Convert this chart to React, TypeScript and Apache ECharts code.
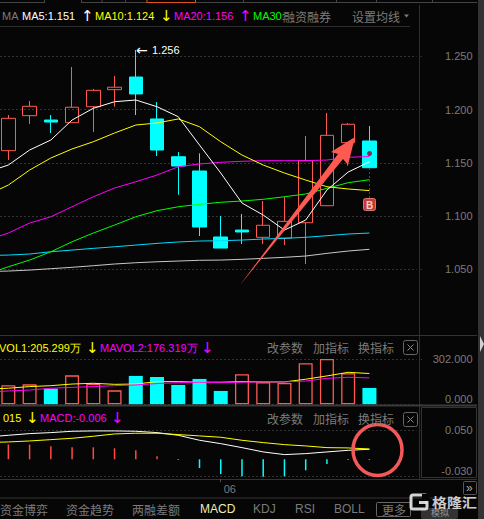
import React, { useEffect, useRef } from "react";
import * as echarts from "echarts";

const categories = ["", "", "", "", "", "", "", "", "", "", "", "06", "", "", "", "", "", "", "", "", ""];

const opens = ["-", 1.1615, 1.1944, 1.1903, 1.1878, 1.2028, 1.2188, 1.2307, 1.1913, 1.1558, 1.1424, 1.0804, 1.0869, 1.0801, 1.0794, 1.0938, 1.1098, 1.169, 1.1706];
const closes = ["-", 1.1919, 1.2032, 1.1884, 1.2023, 1.2182, 1.2211, 1.2148, 1.1621, 1.1471, 1.0898, 1.07, 1.0851, 1.0914, 1.0951, 1.1521, 1.1759, 1.1863, 1.1455];
const lows = ["-", 1.1527, 1.1866, 1.1781, 1.1878, 1.179, 1.2028, 1.195, 1.1565, 1.1201, 1.0813, 1.07, 1.0738, 1.0738, 1.0728, 1.055, 1.1098, 1.1474, 1.1433];
const highs = ["-", 1.195, 1.2082, 1.195, 1.2401, 1.2195, 1.2317, 1.2561, 1.2072, 1.1602, 1.159, 1.1001, 1.102, 1.1142, 1.1182, 1.1753, 1.1969, 1.1875, 1.1847];

const ma5 = [1.1414, 1.148, 1.1621, 1.1715, 1.1903, 1.2013, 1.2075, 1.2091, 1.2028, 1.1934, 1.1668, 1.1405, 1.1123, 1.101, 1.0869, 1.0963, 1.1245, 1.1414, 1.151];
const ma10 = [1.1198, 1.1292, 1.1433, 1.1546, 1.1631, 1.1699, 1.1781, 1.1856, 1.1875, 1.1913, 1.184, 1.1699, 1.1574, 1.148, 1.1405, 1.1339, 1.1276, 1.1255, 1.124];
const ma20 = [1.0775, 1.0841, 1.0935, 1.0994, 1.1088, 1.1182, 1.1264, 1.1323, 1.1386, 1.1464, 1.149, 1.1506, 1.1515, 1.1521, 1.1521, 1.1521, 1.1527, 1.1553, 1.156];
const ma30 = [1.0456, 1.0524, 1.0587, 1.0665, 1.0759, 1.0841, 1.0916, 1.0994, 1.1051, 1.1088, 1.1111, 1.113, 1.1142, 1.1158, 1.1182, 1.1208, 1.1261, 1.1314, 1.1342];
const ma60 = [1.063, 1.0634, 1.0644, 1.0665, 1.0681, 1.0697, 1.0712, 1.0728, 1.0744, 1.0757, 1.0766, 1.0769, 1.0775, 1.0785, 1.0791, 1.0801, 1.0816, 1.0832, 1.0841];
const ma120 = [1.0479, 1.0484, 1.0493, 1.0506, 1.0519, 1.0534, 1.055, 1.0562, 1.0571, 1.0578, 1.0585, 1.0587, 1.0594, 1.0603, 1.0613, 1.0625, 1.065, 1.0672, 1.0688];

const volumes = ["-", 127, 133, 104, 193, 138, 93, 189, 182, 129, 169, 89, 200, 147, 142, 273, 302, 207, 109];
const volumeHollow = [false, true, true, false, true, true, true, false, false, false, false, false, true, true, true, true, true, true, false];
const mavol1 = [102, 107, 118, 124, 135, 140, 133, 135, 151, 151, 147, 147, 151, 149, 149, 167, 189, 213, 205];
const mavol2 = [80, 89, 95, 107, 113, 118, 124, 129, 138, 144, 147, 144, 147, 149, 149, 155, 173, 180, 176];

const macdHist = ["-", 0.0253, 0.0253, 0.0224, 0.0207, 0.0207, 0.019, 0.0155, 0.0052, -0.0012, -0.015, -0.0253, -0.0293, -0.03, -0.0293, -0.019, -0.0081, -0.0012, -0.0012];
const dif = [0.0385, 0.0414, 0.0443, 0.046, 0.0483, 0.0489, 0.0489, 0.0483, 0.046, 0.0414, 0.0328, 0.027, 0.0201, 0.0127, 0.0081, 0.0098, 0.0127, 0.0155, 0.0173];
const dea = [0.0288, 0.0299, 0.0316, 0.0339, 0.0362, 0.0397, 0.0437, 0.0449, 0.0449, 0.0426, 0.0403, 0.038, 0.0328, 0.0288, 0.0253, 0.023, 0.0201, 0.0196, 0.0178];

const priceTicks = [1.05, 1.1, 1.15, 1.2, 1.25];
const volumeTicks = [0, 302];
const macdTicks = [-0.03, 0.05];

const BG = "#060606";
const RED = "#ff5a52";
const CYAN = "#00ffff";
const GRAY = "#7b7b7b";
const LINE = "#2e2e2e";
const LATIN = "'Liberation Sans', sans-serif";
const CJK = "'Noto Sans CJK SC', sans-serif";
const SHIFT = 24;

const txt = (text: string, x: number, y: number, fill: string, extra: any = {}) => ({
  type: "text",
  x,
  y,
  z: 100,
  silent: true,
  style: { text, fill, font: `11px ${LATIN}`, verticalAlign: "middle", ...extra },
});
const cjk = (text: string, x: number, y: number, fill = GRAY) =>
  txt(text, x, y, fill, { font: `12px ${CJK}` });
const arrow = (text: string, x: number, y: number, fill: string) =>
  txt(text, x, y, fill, { font: `15px 'DejaVu Sans'` });
const seg = (x1: number, y1: number, x2: number, y2: number, stroke = LINE, lineWidth = 1, extra: any = {}) => ({
  type: "line",
  z: 60,
  silent: true,
  shape: { x1, y1, x2, y2 },
  style: { stroke, lineWidth, ...extra },
});
const box = (x: number, y: number, width: number, height: number, stroke = "#555", fill = "transparent", r = 1, z = 60) => ({
  type: "rect",
  z,
  silent: true,
  shape: { x, y, width, height, r },
  style: { stroke, fill, lineWidth: 1 },
});

const yAxisBase = (gridIndex: number, min: number, max: number, customValues: number[]) => ({
  type: "value",
  gridIndex,
  min,
  max,
  position: "right",
  scale: true,
  axisLine: { show: false },
  axisTick: { show: false, customValues },
  splitLine: { show: true, lineStyle: { color: "#5e5e5e", width: 1, type: [1, 3] } },
  axisLabel: {
    customValues,
    color: GRAY,
    fontFamily: LATIN,
    fontSize: 11,
    align: "right",
    margin: 50,
    formatter: (v: number) => v.toFixed(3),
  },
});

const lineSeries = (name: string, data: number[], color: string, axisIndex: number) => ({
  name,
  type: "line",
  data,
  xAxisIndex: axisIndex,
  yAxisIndex: axisIndex,
  symbol: "none",
  lineStyle: { color, width: 1 },
  silent: true,
});

export default function App() {
  const ref = useRef<HTMLDivElement>(null);
  useEffect(() => {
    if (!ref.current) return;
    const chart = echarts.init(ref.current, undefined, { renderer: "svg" });
    const candle = opens.map((o, i) => (o === "-" ? "-" : [o, closes[i], lows[i], highs[i]]));
    const xBase = (gridIndex: number) => ({
      type: "category",
      gridIndex,
      data: categories,
      boundaryGap: true,
      axisLine: { show: false },
      axisTick: { show: false },
      splitLine: { show: false },
      axisLabel: { show: false },
    });
    const buttons = (y: number) => [cjk("改参数", 267, y), cjk("加指标", 313, y), cjk("换指标", 358, y)];
    const closeBox = (x: number, y: number) => [
      box(x, y, 14, 14, "#666", "transparent", 2),
      seg(x + 4, y + 4, x + 10, y + 10, "#888"),
      seg(x + 10, y + 4, x + 4, y + 10, "#888"),
    ];
    chart.setOption({
      animation: false,
      backgroundColor: BG,
      grid: [
        { left: 0.5, width: 446, top: 27, height: 308 },
        { left: 0.5, width: 446, top: 342, height: 62.3 },
        { left: 0.5, width: 446, top: 413, height: 63.7 },
      ],
      xAxis: [
        xBase(0),
        xBase(1),
        {
          ...xBase(2),
          axisLabel: {
            show: true,
            interval: 0,
            color: GRAY,
            fontFamily: LATIN,
            fontSize: 11,
            margin: 7,
            align: "left",
            padding: [0, 0, 0, 3],
          },
        },
      ],
      yAxis: [
        yAxisBase(0, 0.9883, 1.2777, priceTicks),
        {
          ...yAxisBase(1, 0, 415, volumeTicks),
          axisLabel: { ...yAxisBase(1, 0, 415, volumeTicks).axisLabel, verticalAlignMinLabel: "bottom" },
        },
        {
          ...yAxisBase(2, -0.03, 0.0798, macdTicks),
          axisLabel: { ...yAxisBase(2, -0.03, 0.0798, macdTicks).axisLabel, verticalAlignMinLabel: "bottom" },
        },
      ],
      series: [
        {
          name: "K",
          type: "candlestick",
          data: candle,
          xAxisIndex: 0,
          yAxisIndex: 0,
          barWidth: 14,
          silent: true,
          itemStyle: { color: "transparent", color0: CYAN, borderColor: RED, borderColor0: CYAN, borderWidth: 1 },
        },
        lineSeries("MA120", ma120, "#c8c8c8", 0),
        lineSeries("MA60", ma60, "#00dcff", 0),
        lineSeries("MA30", ma30, "#00ff00", 0),
        lineSeries("MA20", ma20, "#ff00ff", 0),
        lineSeries("MA10", ma10, "#ffff00", 0),
        lineSeries("MA5", ma5, "#ffffff", 0),
        {
          name: "VOL",
          type: "bar",
          xAxisIndex: 1,
          yAxisIndex: 1,
          barWidth: 14,
          silent: true,
          data: volumes.map((v, i) => ({
            value: v,
            itemStyle: volumeHollow[i]
              ? { color: "transparent", borderColor: RED, borderWidth: 1.3 }
              : { color: CYAN, borderWidth: 0 },
          })),
        },
        lineSeries("MAVOL1", mavol1, "#ffff00", 1),
        lineSeries("MAVOL2", mavol2, "#ff00ff", 1),
        {
          name: "MACD",
          type: "bar",
          xAxisIndex: 2,
          yAxisIndex: 2,
          barWidth: 1.5,
          silent: true,
          data: macdHist.map((v) => ({
            value: v,
            itemStyle: { color: typeof v === "number" && v > 0 ? "#ff4a42" : CYAN },
          })),
        },
        lineSeries("DIF", dif, "#ffffff", 2),
        lineSeries("DEA", dea, "#ffff00", 2),
      ],
      graphic: {
        elements: [
          {
            type: "group",
            x: SHIFT,
            y: 0,
            children: [
              // masks and panel frames
              { type: "rect", z: 55, silent: true, shape: { x: 416.5, y: 0, width: 4, height: 480 }, style: { fill: BG } },
              { type: "rect", z: 55, silent: true, shape: { x: -24, y: 477.5, width: 444, height: 3 }, style: { fill: BG } },
              seg(0, 26.5, 410, 26.5, LINE),
              seg(419.5, 5, 419.5, 480, LINE, 1),
              seg(0, 335.5, 477, 335.5, "#333"),
              seg(0, 405.5, 477, 405.5, "#3a3a3a", 2),
              seg(0, 479.5, 477, 479.5, "#333"),
              seg(0, 498, 477, 498, "#333"),
              box(421.5, 407.5, 55, 70, "#333", "transparent", 0),
              seg(220.5, 479, 220.5, 482, "#555"),
              { type: "rect", z: 60, silent: true, shape: { x: 478, y: 0, width: 6, height: 519 }, style: { fill: "#333" } },
              { type: "polygon", z: 61, silent: true, shape: { points: [[480, 336], [484, 344], [480, 352]] }, style: { fill: "#d0d0d0" } },
              // top tabs
              seg(0, 2.5, 44, 2.5, "#444"),
              seg(44.5, 0, 44.5, 3, "#444"),
              seg(81, 2.5, 147, 2.5, "#444"),
              seg(81.5, 0, 81.5, 3, "#444"),
              seg(102, 0, 102, 3, "#444"),
              seg(125.5, 0, 125.5, 3, "#444"),
              seg(147, 0, 147, 3, "#e0541c"),
              seg(195.5, 0, 195.5, 3, "#e0541c"),
              seg(147, 2.5, 195.5, 2.5, "#e0541c"),
              seg(195.5, 2.5, 477, 2.5, "#444"),
              seg(243.5, 0, 243.5, 3, "#444"),
              seg(336.5, 0, 336.5, 3, "#444"),
              seg(376.5, 0, 376.5, 3, "#444"),
              seg(432.5, 0, 432.5, 3, "#444"),
              // main header
              txt("MA", 2, 16, GRAY),
              txt("MA5:1.151", 22, 16, "#ffffff"),
              arrow("↑", 81, 16, "#ffffff"),
              txt("MA10:1.124", 95, 16, "#ffff00"),
              arrow("↓", 160, 16, "#ffff00"),
              txt("MA20:1.156", 174, 16, "#ff00ff"),
              arrow("↑", 239, 16, "#ff00ff"),
              txt("MA30:", 253, 16, "#00ff00"),
              cjk("融资融券", 283, 16),
              cjk("设置均线", 352, 16),
              { type: "polygon", z: 100, silent: true, shape: { points: [[404, 14.5], [409, 14.5], [406.5, 17.5]] }, style: { fill: GRAY } },
              // peak label
              txt("←", 136, 50, "#ffffff", { font: `14px 'DejaVu Sans'` }),
              txt("1.256", 152, 50, "#ffffff"),
              // volume header
              txt("VOL1:205.299万", -1, 347.5, "#ffff00"),
              arrow("↓", 86, 347.5, "#ffff00"),
              txt("MAVOL2:176.319万", 100, 347.5, "#ff00ff"),
              arrow("↓", 201, 347.5, "#ff00ff"),
              ...buttons(347.5),
              ...closeBox(403.5, 340.5),
              // macd header
              txt("015", 3, 418, "#ffff00"),
              arrow("↓", 26, 418, "#ffff00"),
              txt("MACD:-0.006", 40, 418, "#ff00ff"),
              arrow("↓", 111, 418, "#ff00ff"),
              ...buttons(418),
              ...closeBox(403.5, 412.5),
              // annotations
              seg(369.5, 168, 369.5, 198, "#8a2a2a", 1, { lineDash: [2, 2] }),
              { type: "circle", z: 70, silent: true, shape: { cx: 369.5, cy: 153.5, r: 2.5 }, style: { fill: "#7a2d55" } },
              { type: "rect", z: 70, silent: true, shape: { x: 363.5, y: 198.5, width: 12, height: 12, r: 2 }, style: { fill: "#c63b30", stroke: "#d9776e", lineWidth: 1 } },
              txt("B", 366, 205, "#f2d0cc", { font: `bold 10px ${LATIN}` }),
              {
                type: "polygon",
                z: 80,
                silent: true,
                shape: { points: [[240, 285], [338, 154], [331, 152], [355, 137], [348, 165], [343, 159]] },
                style: { fill: RED },
              },
              {
                type: "ellipse",
                z: 80,
                silent: true,
                shape: { cx: 377.5, cy: 450, rx: 24.5, ry: 25.5 },
                style: { stroke: "#f4595a", fill: "transparent", lineWidth: 3.5 },
              },
              // bottom bar
              cjk("资金博弈", 0, 509),
              cjk("资金趋势", 66, 509),
              cjk("两融差额", 132, 509),
              txt("MACD", 200, 509, "#eeeeb8", { font: `12px ${LATIN}` }),
              txt("KDJ", 253, 509, GRAY, { font: `12px ${LATIN}` }),
              txt("RSI", 295, 509, GRAY, { font: `12px ${LATIN}` }),
              txt("BOLL", 334, 509, GRAY, { font: `12px ${LATIN}` }),
              box(376.5, 502.5, 34, 14, "#666", "transparent", 1),
              cjk("更多", 382, 509),
              { type: "rect", z: 90, silent: true, shape: { x: 421, y: 508, width: 37, height: 11, r: 2 }, style: { fill: "#333" } },
              txt("模拟", 431, 512.5, "#999", { font: `9px ${CJK}` }),
              box(463.5, 481.5, 13, 13, "#555", "transparent", 1),
              txt("»", 466, 487.5, "#aaa", { font: `12px ${LATIN}` }),
              // watermark
              { type: "rect", z: 95, silent: true, shape: { x: 411, y: 495, width: 16, height: 14, r: 2 }, style: { fill: "transparent", stroke: "rgba(235,235,235,0.9)", lineWidth: 3 } },
              { type: "rect", z: 96, silent: true, shape: { x: 422, y: 494, width: 8, height: 7 }, style: { fill: BG } },
              { type: "rect", z: 96, silent: true, shape: { x: 419, y: 501, width: 8, height: 3 }, style: { fill: "rgba(235,235,235,0.9)" } },
              { ...txt("格隆汇", 432, 501, "rgba(240,240,240,0.85)", { font: `bold 13px ${CJK}` }), scaleX: 1.15 },
            ],
          },
        ],
      },
    });
    return () => chart.dispose();
  }, []);
  return (
    <div style={{ position: "fixed", left: 0, top: 0, width: 484, height: 519, overflow: "hidden", background: BG }}>
      <div ref={ref} style={{ position: "absolute", left: -SHIFT, top: 0, width: 484 + SHIFT, height: 519 }} />
    </div>
  );
}
